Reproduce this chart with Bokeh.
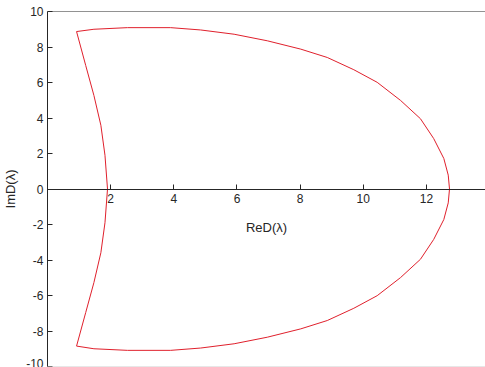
from bokeh.plotting import figure
from bokeh.models import Range1d, FixedTicker, LinearAxis, Span
from bokeh.embed import file_html
from bokeh.resources import INLINE

# Boundary curve D(lambda): outer arc (top -> right -> bottom), then inner arc (bottom -> top)
re_outer_upper = [0.92, 1.47, 2.53, 3.90, 4.85, 5.91, 6.96, 8.02, 8.86, 9.70, 10.44, 11.18, 11.81, 12.23, 12.55, 12.69, 12.73]
im_outer_upper = [8.87, 9.00, 9.09, 9.09, 8.96, 8.72, 8.35, 7.88, 7.41, 6.72, 6.01, 4.99, 3.96, 2.84, 1.72, 0.78, 0.00]

re_outer_lower = [12.69, 12.55, 12.23, 11.81, 11.18, 10.44, 9.70, 8.86, 8.02, 6.96, 5.91, 4.85, 3.90, 2.53, 1.47, 0.92]
im_outer_lower = [-0.78, -1.72, -2.84, -3.96, -4.99, -6.01, -6.72, -7.41, -7.88, -8.35, -8.72, -8.96, -9.09, -9.09, -9.00, -8.85]

re_inner = [1.21, 1.47, 1.69, 1.82, 1.90, 1.82, 1.69, 1.47, 1.21, 0.92]
im_inner = [-6.96, -5.27, -3.59, -1.90, 0.00, 1.90, 3.59, 5.27, 6.96, 8.87]

x_ticks = [2, 4, 6, 8, 10, 12]
y_ticks = [-10, -8, -6, -4, -2, 0, 2, 4, 6, 8, 10]

re_vals = re_outer_upper + re_outer_lower + re_inner
im_vals = im_outer_upper + im_outer_lower + im_inner

FONT = "Liberation Sans"
INK = "#262626"

p = figure(width=485, height=367, output_backend="svg", toolbar_location=None,
           x_range=Range1d(0, 13.87), y_range=Range1d(-10, 10),
           x_axis_type=None, y_axis_type=None,
           min_border_left=47, min_border_right=0, min_border_top=11, min_border_bottom=1,
           background_fill_color="white", border_fill_color="white")
p.outline_line_color = None
p.grid.visible = False

# x axis drawn through the origin
xaxis = LinearAxis(fixed_location=0, ticker=FixedTicker(ticks=x_ticks),
                   axis_label="ReD(λ)")
xaxis.major_label_overrides = {t: str(t) for t in x_ticks}
# y axis on the left
yaxis = LinearAxis(ticker=FixedTicker(ticks=y_ticks), axis_label="ImD(λ)")
yaxis.major_label_overrides = {t: str(t) for t in y_ticks}

for ax in (xaxis, yaxis):
    ax.axis_line_color = INK
    ax.axis_line_width = 1
    ax.major_tick_line_color = INK
    ax.major_tick_in = 5
    ax.major_tick_out = 0
    ax.minor_tick_line_color = None
    ax.major_label_text_font = FONT
    ax.major_label_text_font_size = "12px"
    ax.major_label_text_color = INK
    ax.axis_label_text_font = FONT
    ax.axis_label_text_font_size = "13px"
    ax.axis_label_text_font_style = "normal"
    ax.axis_label_text_color = INK

xaxis.major_label_standoff = 5
xaxis.axis_label_standoff = 13
yaxis.major_label_standoff = 4
yaxis.axis_label_standoff = 5

p.add_layout(xaxis, "below")
p.add_layout(yaxis, "left")

# box edges
p.add_layout(Span(location=10, dimension="width", line_color=INK, line_width=1))
p.add_layout(Span(location=-10, dimension="width", line_color="#d0d0d0", line_width=1))

p.line(re_vals, im_vals, line_color="#e0202c", line_width=1)

open("out.html", "w").write(file_html(p, INLINE))
